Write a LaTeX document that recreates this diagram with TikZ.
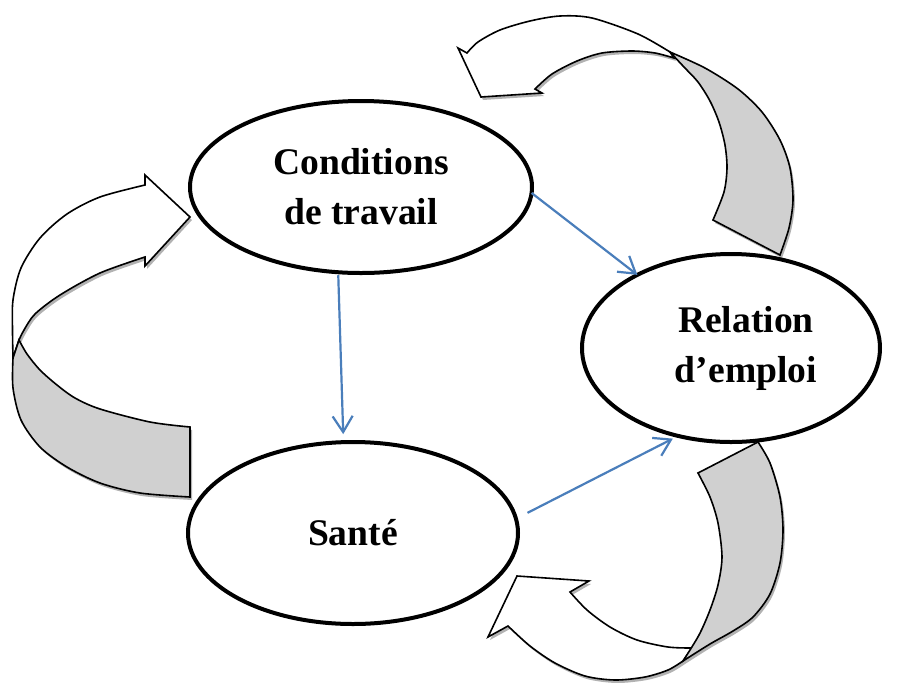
\documentclass[tikz,border=0pt]{standalone}
\usepackage{fontspec}
\setmainfont{Liberation Serif}
\usepackage{tikz}
\usetikzlibrary{arrows.meta, shapes.geometric, shadows}
\definecolor{linkblue}{HTML}{4A7EBB}
\definecolor{ribbongrey}{HTML}{D0D0D0}
\tikzset{
  bubble/.style={draw, ellipse, line width=2pt, fill=white, align=center, inner sep=0pt, outer sep=0pt, font=\fontsize{18.8}{25}\selectfont\bfseries},
  bubbletext/.style={align=center, inner sep=0pt, font=\fontsize{18.8}{25}\selectfont\bfseries},
  link/.style={-{Straight Barb[length=8pt,width=10pt]}, line width=1.1pt, linkblue},
  ribbon/.style={draw, line width=0.8pt, fill=white, drop shadow={shadow xshift=1pt, shadow yshift=-1.5pt, fill=black!30, opacity=1}},
  ribbonside/.style={ribbon, fill=ribbongrey}
}

\begin{document}
\begin{tikzpicture}[x=0.5pt,y=-0.5pt]
    \useasboundingbox (0,0) rectangle (902,682);
    \draw[ribbon] plot[smooth] coordinates {(670,52) (638,34) (592,18) (560,16) (530,21) (500,30) (478,42) (467,53)} -- (458,48) -- (481,97) -- (542,93) -- (535,89) -- plot[smooth] coordinates {(535,89) (552,74) (577,61) (602,53) (632,51) (655,53) (674,58)} -- cycle;
    \draw[ribbonside] plot[smooth] coordinates {(670,52) (684,67) (698,82) (710,101) (719,122) (725,145) (727,168) (724,192) (713,220)} -- (780,255) -- plot[smooth] coordinates {(780,255) (789,228) (793,200) (790,168) (780,140) (762,112) (738,89) (705,68) (670,52)} -- cycle;
    \draw[ribbon] (190,217) -- (145,175) -- (145,185) -- plot[smooth] coordinates {(145,185) (100,197) (67,214) (40,238) (21,268) (13,300) (12.5,330) (13,358)} -- (19,340) -- plot[smooth] coordinates {(19,340) (24,330) (35,314) (60,295) (100,273) (145,257)} -- (145,266) -- cycle;
    \draw[ribbonside] plot[smooth] coordinates {(19,340) (27,354) (40,370) (57,385) (75,398) (100,409) (150,422) (190,427)} -- (190,497) -- plot[smooth] coordinates {(190,497) (140,493) (100,483) (67,467) (40,447) (21,420) (13,388) (13,358)} -- cycle;
    \draw[ribbon] plot[smooth] coordinates {(683,661) (668,670) (645,677) (615,680) (585,676) (555,663) (530,646) (508,626)} -- (488,637) -- (517,576) -- (589,581) -- (570,592) -- plot[smooth] coordinates {(570,592) (587,610) (610,627) (637,640) (668,647) (692,648)} -- cycle;
    \draw[ribbonside] plot[smooth] coordinates {(698,473) (710,497) (718,523) (722,557) (718,585) (710,610) (699,635) (683,661)} -- plot[smooth] coordinates {(683,661) (710,644) (733,631) (753,617) (770,594) (780,563) (783,530) (780,497) (770,463) (758,442)} -- cycle;
    \node[bubble, minimum width=171pt, minimum height=86pt] (cond) at (361,187) {Conditions\\de travail};
    \node[bubble, minimum width=149pt, minimum height=94pt] (rel) at (731,348) {};
    \node[bubbletext] (reltext) at ([xshift=7.5pt]rel.center) {Relation\\d’emploi};
    \node[bubble, minimum width=165pt, minimum height=91pt] (sante) at (353,533) {Santé};
    \draw[link, shorten <=1.5pt, shorten >=4pt] (cond.255) -- (sante.96);
    \draw[link] (cond.-2) -- (rel.142);
    \draw[link, shorten <=6.5pt, shorten >=3pt] (sante.5) -- (rel.239);
\end{tikzpicture}
\end{document}
